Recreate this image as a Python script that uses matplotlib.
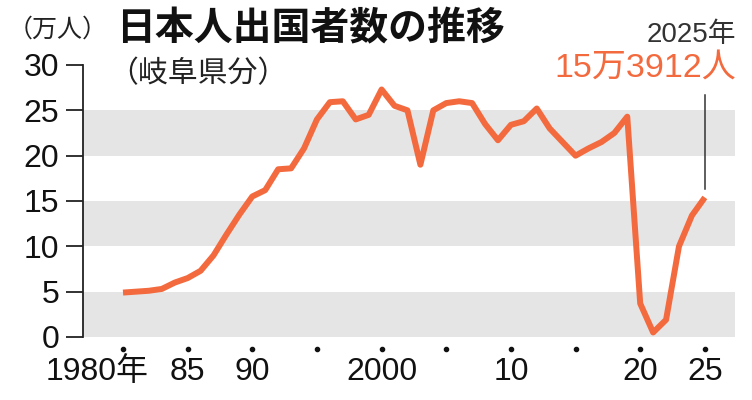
import matplotlib
matplotlib.use("Agg")
import matplotlib.pyplot as plt
from matplotlib.transforms import blended_transform_factory

years = list(range(1980, 2026))
values = [4.9, 5.0, 5.1, 5.3, 6.0, 6.5, 7.3, 9.0, 11.3, 13.5,
          15.5, 16.2, 18.5, 18.6, 20.8, 24.0, 25.9, 26.0, 24.0, 24.5,
          27.3, 25.5, 25.0, 19.0, 25.0, 25.8, 26.0, 25.8, 23.5, 21.7,
          23.4, 23.8, 25.2, 23.0, 21.5, 20.0, 20.8, 21.5, 22.5, 24.3,
          3.7, 0.5, 1.9, 10.0, 13.4, 15.3912]
yticks = [0, 5, 10, 15, 20, 25, 30]
bands = [(0, 5), (10, 15), (20, 25)]
xdot_years = [1980, 1985, 1990, 1995, 2000, 2005, 2010, 2015, 2020, 2025]
xlabel_years = [1978.0, 1985, 1990, 2000, 2010, 2020, 2025]
xlabel_texts = ["1980年", "85", "90", "2000", "10", "20", "25"]
title = "日本人出国者数の推移"
subtitle = "（岐阜県分）"
unit = "（万人）"
ann_year = "2025年"
ann_value = "15万3912人"

CJK = ["Noto Sans CJK JP", "DejaVu Sans"]
NUM = ["Liberation Sans", "Noto Sans CJK JP", "DejaVu Sans"]
ORANGE = "#f36a3e"

fig = plt.figure(figsize=(7.52, 4.00), dpi=100)
ax = fig.add_axes([83/752, 1 - 337/400, (735 - 83)/752, (337 - 65)/400])
ax.set_xlim(1980 - 40/12.93, 1980 + 612/12.93)
ax.set_ylim(0, 30)

for lo, hi in bands:
    ax.axhspan(lo, hi, color="#e5e5e5", lw=0, zorder=0)

ax.plot(years, values, color=ORANGE, lw=4.3, solid_joinstyle="round",
        solid_capstyle="butt", zorder=3)

for s in ["top", "right", "bottom"]:
    ax.spines[s].set_visible(False)
ax.spines["left"].set_linewidth(1.3)
ax.spines["left"].set_color("#222222")
ax.set_yticks(yticks)
ax.set_yticklabels([str(v) for v in yticks], fontfamily=NUM, fontsize=23, color="#111111")
ax.tick_params(axis="y", length=12, width=1.3, color="#222222", pad=5)
ax.set_xticks([])

tr = blended_transform_factory(ax.transData, ax.transAxes)
ax.scatter(xdot_years, [-0.044] * len(xdot_years), s=9, color="#111111",
           transform=tr, clip_on=False)
for xv, t in zip(xlabel_years, xlabel_texts):
    ax.text(xv, -0.13, t, transform=tr, ha="center", va="center",
            fontsize=23, fontfamily=NUM, color="#111111")

# annotation line
ax.plot([2025, 2025], [16.3, (337 - 95) / 9.07], color="#333333", lw=1.1,
        clip_on=False, zorder=2)

fig.text(8/752, 1 - 30/400, unit, fontfamily=CJK, fontsize=18, ha="left", va="center", color="#222222")
fig.text(116/752, 1 - 29/400, title, fontfamily=CJK, fontsize=28, fontweight="bold",
         ha="left", va="center", color="#111111")
fig.text(108/752, 1 - 74/400, subtitle, fontfamily=CJK, fontsize=21.5, ha="left", va="center", color="#222222")
fig.text(736/752, 1 - 35/400, ann_year, fontfamily=NUM, fontsize=20, ha="right", va="center", color="#333333")
fig.text(736/752, 1 - 68/400, ann_value, fontfamily=NUM, fontsize=24.5, ha="right", va="center", color=ORANGE)

fig.savefig("out.png", dpi=100)
